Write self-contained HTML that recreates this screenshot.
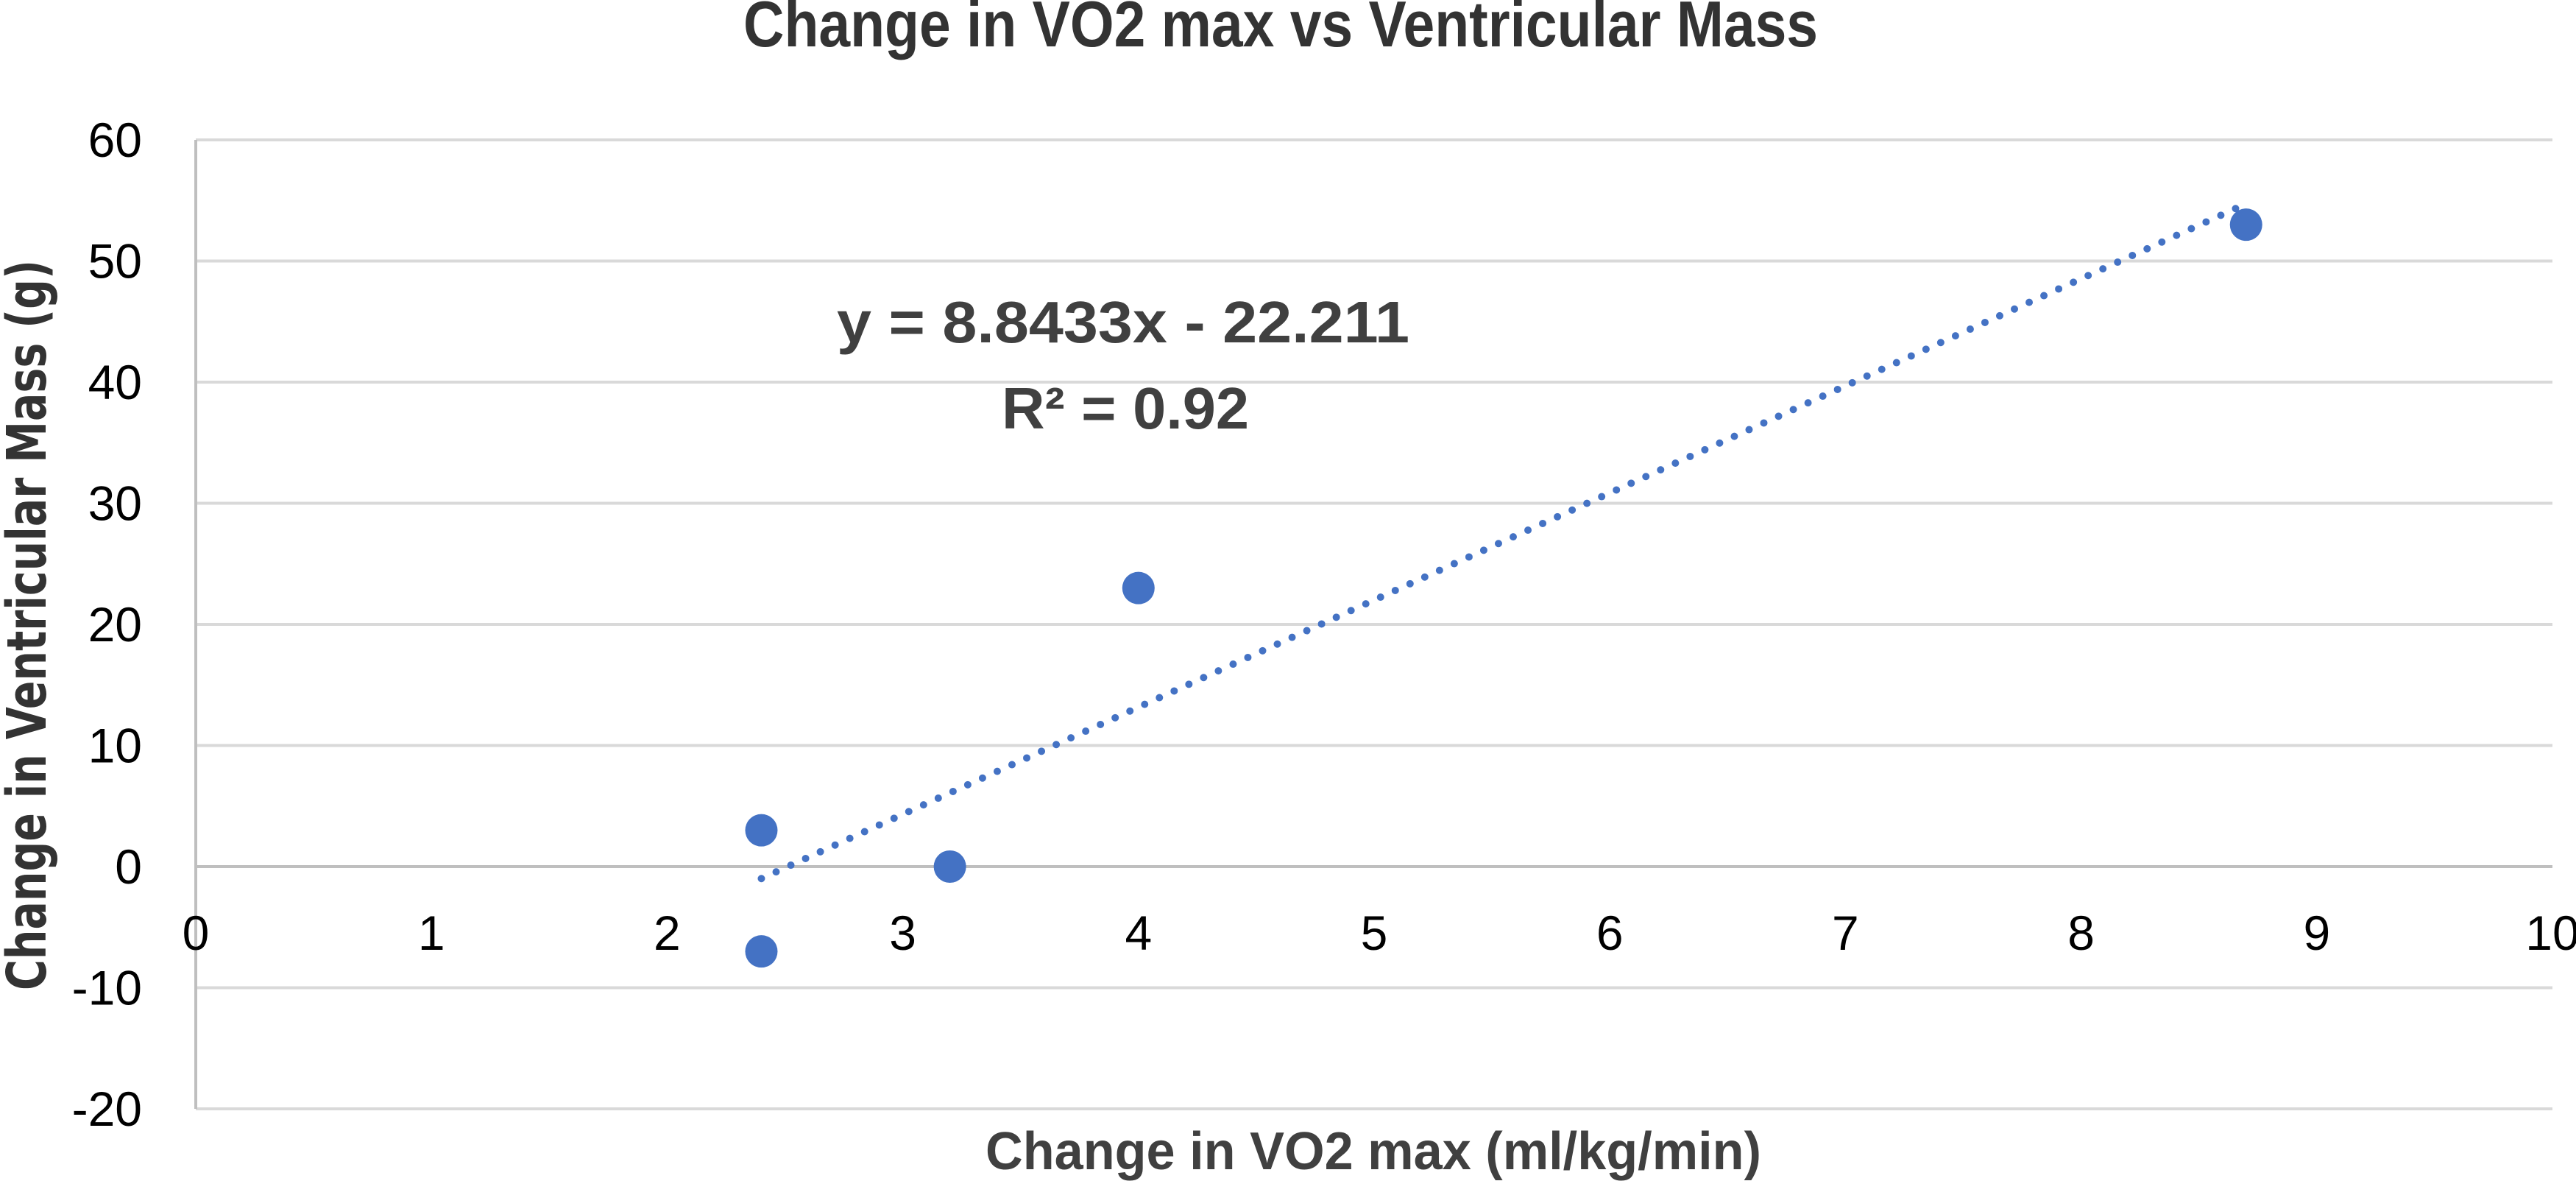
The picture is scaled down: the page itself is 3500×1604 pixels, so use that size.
<!DOCTYPE html>
<html><head><meta charset="utf-8"><style>
html,body{margin:0;padding:0;background:#fff;}
svg{display:block;}
text{font-family:"Liberation Sans",sans-serif;}
</style></head><body>
<svg id="chart" width="3500" height="1604" viewBox="0 0 3500 1604" xmlns="http://www.w3.org/2000/svg">
<rect width="3500" height="1604" fill="#fff"/>
<text x="1740" y="63" text-anchor="middle" font-size="88" font-weight="bold" fill="#333" textLength="1460" lengthAdjust="spacingAndGlyphs">Change in VO2 max vs Ventricular Mass</text>
<g id="grid"></g><g id="ticks"></g><g id="trend"></g><g id="points"></g>
<text x="1526" y="465" text-anchor="middle" font-size="80" font-weight="bold" fill="#404040" textLength="778" lengthAdjust="spacingAndGlyphs">y = 8.8433x - 22.211</text>
<text x="1529" y="582" text-anchor="middle" font-size="80" font-weight="bold" fill="#404040" textLength="336" lengthAdjust="spacingAndGlyphs">R² = 0.92</text>
<text x="1866" y="1588" text-anchor="middle" font-size="72" font-weight="bold" fill="#404040" textLength="1054" lengthAdjust="spacingAndGlyphs">Change in VO2 max (ml/kg/min)</text>
<text transform="translate(62,849) rotate(-90)" text-anchor="middle" font-size="74" font-weight="bold" fill="#333" style="font-family:'DejaVu Sans',sans-serif" textLength="992" lengthAdjust="spacingAndGlyphs">Change in Ventricular Mass (g)</text>
</svg>
<script>
const xVals = [2.4, 2.4, 3.2, 4, 8.7];
const yVals = [3, -7, 0, 23, 53];
const xTicks = [0,1,2,3,4,5,6,7,8,9,10];
const yTicks = [60,50,40,30,20,10,0,-10,-20];
const slope = 8.8433;
const intercept = -22.211;
const trendRange = [2.4, 8.7];

const NS = "http://www.w3.org/2000/svg";
const X0 = 266, X1 = 3468, Y0 = 1177, YS = 164.5;
const xs = v => X0 + (X1 - X0) * (v - 0) / 10;
const ys = v => Y0 - v * YS / 10;
function mk(tag, attrs, parent){ const e=document.createElementNS(NS,tag); for(const k in attrs) e.setAttribute(k,attrs[k]); document.getElementById(parent).appendChild(e); return e; }

yTicks.forEach(t=>{
  const l = mk('line',{x1:X0,x2:X1,y1:ys(t),y2:ys(t),stroke:t===0?'#bfbfbf':'#d9d9d9','stroke-width':4},'grid');
  
  
  const tx = mk('text',{x:193,y:ys(t)+23,'text-anchor':'end','font-size':66,fill:'#000'},'ticks');
  tx.textContent = t;
  
  
});
const ax = mk('line',{x1:X0,x2:X0,y1:ys(60),y2:ys(-20),stroke:'#bfbfbf','stroke-width':4},'grid');


xTicks.forEach(t=>{
  const tx = mk('text',{x:xs(t),y:1290,'text-anchor':'middle','font-size':66,fill:'#000'},'ticks');
  tx.textContent = t;
  
  
});
const tl = mk('line',{x1:xs(trendRange[0]),y1:ys(slope*trendRange[0]+intercept),x2:xs(trendRange[1]),y2:ys(slope*trendRange[1]+intercept),stroke:'#4472c4','stroke-width':10,'stroke-linecap':'round','stroke-dasharray':'0 22'},'trend');


xVals.forEach((x,i)=>{
  const c = mk('circle',{cx:xs(x),cy:ys(yVals[i]),r:22,fill:'#4472c4'},'points');
  
  
});
</script>
</body></html>
